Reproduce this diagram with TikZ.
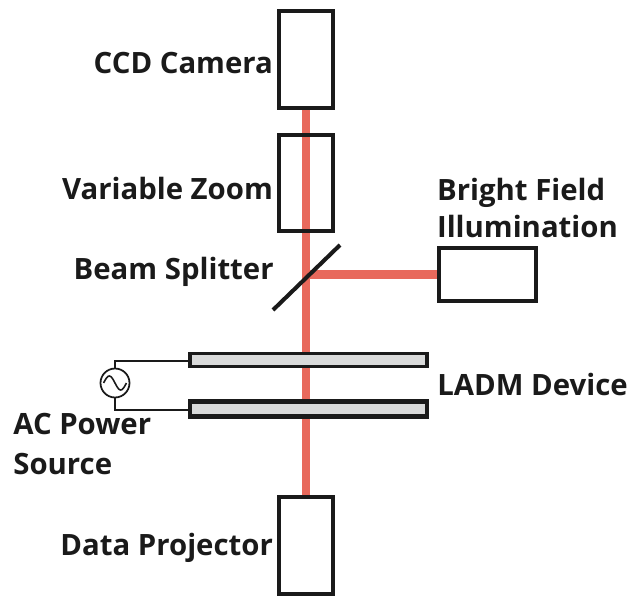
\documentclass[tikz,border=0pt]{standalone}
\usepackage{xcolor}
\usepackage{fontspec}
\setmainfont{Open Sans}
\usetikzlibrary{positioning,backgrounds}
\definecolor{beamred}{HTML}{E8695C}
\definecolor{platefill}{HTML}{D9DADA}
\definecolor{inkblack}{HTML}{1A1A1A}

\begin{document}
\begin{tikzpicture}[
  x=0.02cm, y=-0.02cm,
  device/.style={draw=inkblack, line width=2.3pt, minimum width=31pt, minimum height=55pt, inner sep=0pt},
  lamp/.style={draw=inkblack, line width=2.3pt, minimum width=55.5pt, minimum height=30.5pt, inner sep=0pt},
  plate/.style={draw=inkblack, fill=platefill, line width=1.9pt, minimum width=135pt, minimum height=7.5pt, inner sep=0pt},
  source/.style={circle, draw=inkblack, line width=1pt, minimum size=16.5pt, inner sep=0pt},
  lbl/.style={font=\fontsize{16.7}{21}\selectfont\bfseries, text=inkblack, inner sep=0pt, align=left},
  beam/.style={beamred, line width=4.6pt},
  wire/.style={inkblack, line width=0.9pt},
  mirror/.style={inkblack, line width=2.3pt}
]
  \useasboundingbox (0,0) rectangle (633,596);

  \node[device] (ccd) at (306,59.5) {};
  \node[device] (zoom) at (306,183) {};
  \node[device] (projector) at (306,545.5) {};
  \node[lamp] (bright) at (487.5,274.5) {};
  \node[plate] (topplate) at (308.5,360) {};
  \node[plate, line width=2.6pt, minimum height=8.5pt] (botplate) at (308.5,409) {};
  \node[source] (ac) at (115,383) {};

  \coordinate (mirrorlow) at (273,310);
  \coordinate (mirrorhigh) at (340,245);
  \coordinate (split) at (307,274.5);
  \coordinate (wiretop) at (115,361);
  \coordinate (wirebot) at (115,410);

  \node[lbl, left=2pt of ccd, yshift=-2pt] (ccdlabel) {CCD Camera};
  \node[lbl, left=2pt of zoom, yshift=-3pt] (zoomlabel) {Variable Zoom};
  \node[lbl, left=2pt of projector, yshift=-1.5pt] (projlabel) {Data Projector};
  \node[lbl, anchor=east] (splitlabel) at (274,272) {Beam Splitter};
  \node[lbl, above=4.5pt of bright.north west, anchor=south west] (brightlabel) {Bright Field\\Illumination};
  \node[lbl, anchor=west] (ladmlabel) at (437,384) {LADM Device};
  \node[lbl, anchor=north west, font=\fontsize{16.7}{22.5}\selectfont\bfseries] (aclabel) at (13,413) {AC Power\\Source};

  \begin{scope}[on background layer]
    \draw[beam] (ccd.south) -- (projector.north);
    \draw[beam] (split) -- (bright.west);
  \end{scope}

  \draw[mirror] (mirrorlow) -- (mirrorhigh);
  \draw[wire] (ac.north) -- (wiretop) -- (wiretop -| topplate.west);
  \draw[wire] (ac.south) -- (wirebot) -- (wirebot -| botplate.west);
  % sine inside the source
  \draw[wire] ([xshift=-6.5pt]ac.center) sin +(3.25pt,4pt) cos +(3.25pt,-4pt) sin +(3.25pt,-4pt) cos +(3.25pt,4pt);
\end{tikzpicture}
\end{document}
